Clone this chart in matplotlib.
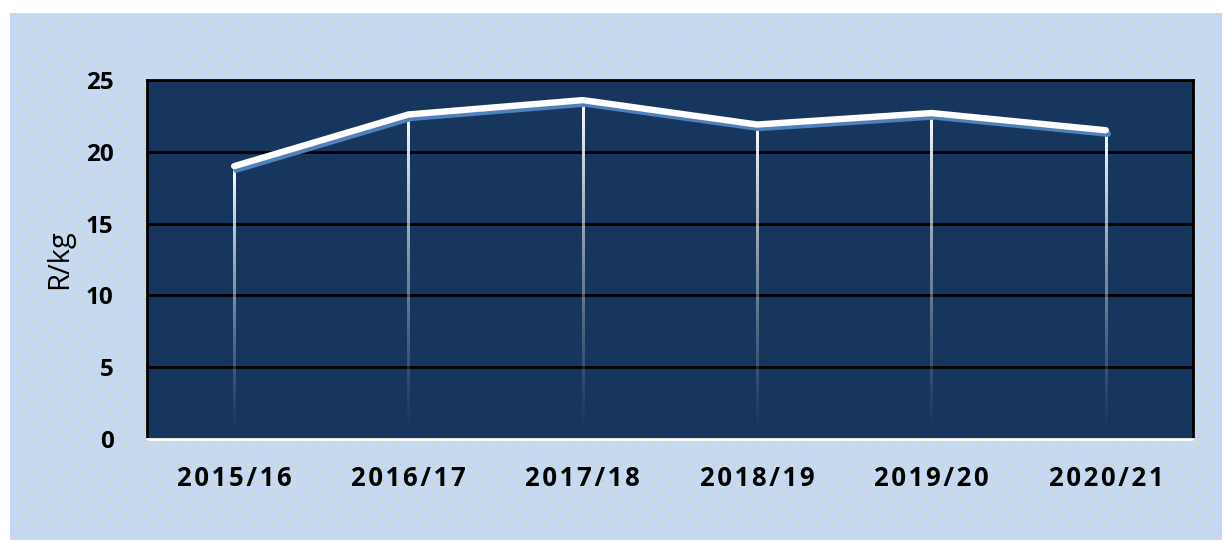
import numpy as np
import matplotlib
matplotlib.use("Agg")
import matplotlib.pyplot as plt
import matplotlib.patheffects as pe
from matplotlib.patches import Rectangle

# data
seasons = ["2015/16", "2016/17", "2017/18", "2018/19", "2019/20", "2020/21"]
price = [19.0, 22.6, 23.6, 21.9, 22.7, 21.5]
y_ticks = [0, 5, 10, 15, 20, 25]

W, H = 1226, 542
FONT = ["Open Sans", "DejaVu Sans"]
fig = plt.figure(figsize=(W / 100, H / 100), dpi=100)
fig.patch.set_facecolor("white")

# light blue panel with a small dotted pattern
panel = Rectangle((10 / W, 2 / H), 1212 / W, 527 / H, transform=fig.transFigure,
                  facecolor="#c6d9f0", edgecolor="none", zorder=0)
fig.patches.append(panel)
dx, dy = 17, 8.5
rows = np.arange(22, 540, dy)
px, py = [], []
for i, yy in enumerate(rows):
    start = 25 if i % 2 == 0 else 16.5
    xs = np.arange(start, 1220, dx)
    px.extend(xs)
    py.extend([yy] * len(xs))
px = np.array(px) / W
py = 1 - np.array(py) / H
dots = plt.Line2D(px, py, transform=fig.transFigure, linestyle="none",
                  marker="s", markersize=1.9, markeredgewidth=0,
                  color="#d0dc96", zorder=0.5)
fig.add_artist(dots)

ax = fig.add_axes([147 / W, 1 - 439 / H, (1193 - 147) / W, (439 - 80) / H])
ax.set_zorder(2)
ax.set_facecolor("#17365d")
x = np.arange(len(seasons))

ax.set_xlim(-0.5, len(seasons) - 0.5)
ax.set_ylim(0, 25)
ax.set_yticks(y_ticks)
ax.yaxis.grid(True, color="black", linewidth=2)
ax.set_axisbelow(True)

# drop lines that fade out towards the axis
grad = np.ones((100, 1, 4))
grad[:, 0, 3] = np.linspace(1.0, 0.0, 100) ** 1.3
half_w = 1.0 / 174
for xi, v in zip(x, price):
    ax.imshow(grad, extent=[xi - half_w, xi + half_w, 0, v], origin="upper",
              aspect="auto", interpolation="bilinear", zorder=2)

ax.plot(x, price, color="white", linewidth=4.6, solid_capstyle="round",
        solid_joinstyle="round", zorder=4,
        path_effects=[pe.SimpleLineShadow(offset=(1.5, -2.5), shadow_color="#4f81bd",
                                          alpha=1.0), pe.Normal()])
ax.set_xlim(-0.5, len(seasons) - 0.5)
ax.set_ylim(0, 25)

for s in ["left", "right", "top"]:
    ax.spines[s].set_color("black")
    ax.spines[s].set_linewidth(2)
ax.spines["bottom"].set_color("white")
ax.spines["bottom"].set_linewidth(2)

ax.tick_params(length=0)
ax.set_xticks(x)
spaced = ["\u200a".join(s) for s in seasons]
ax.set_xticklabels(spaced, fontsize=18.5, fontweight="bold", family=FONT)
ax.tick_params(axis="x", pad=19)
ax.tick_params(axis="y", pad=24)
for lbl in ax.get_yticklabels():
    lbl.set_fontsize(17.5)
    lbl.set_fontweight("bold")
    lbl.set_family(FONT)
ax.set_ylabel("R/kg", fontsize=21, family=FONT)
ax.yaxis.set_label_coords(-0.07, 0.5)

fig.savefig("out.png", dpi=100)
